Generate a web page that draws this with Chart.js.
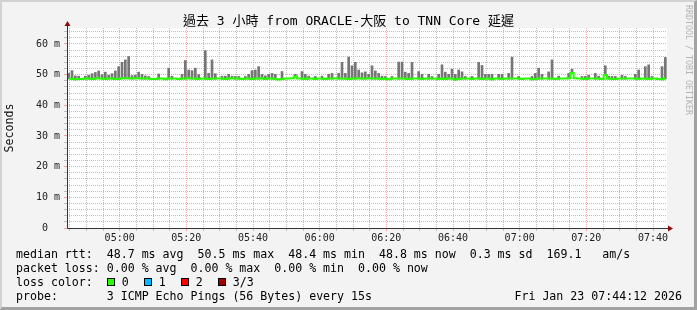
<!DOCTYPE html>
<html>
<head>
<meta charset="utf-8">
<script src="https://cdn.jsdelivr.net/npm/chart.js@4/dist/chart.umd.min.js"></script>
<style>
    html, body { margin: 0; padding: 0; }
    body { width: 697px; height: 310px; background: #f3f3f3; position: relative; overflow: hidden;
           font-family: "DejaVu Sans Mono", "Noto Sans CJK TC", monospace; color: #000; }
    #chart { position: absolute; left: 0; top: 0; }
    .frame { position: absolute; left: 0; top: 0; width: 697px; height: 310px; box-sizing: border-box;
             border-top: 2px solid #d2d2d2; border-left: 2px solid #d2d2d2;
             border-right: 3px solid #a2a2a2; border-bottom: 3px solid #a2a2a2; pointer-events: none; }
    #title { position: absolute; left: 0; top: 13px; width: 697px; text-align: center;
             font-size: 13px; line-height: 16px; white-space: pre; }
    #legend { position: absolute; left: 16px; top: 247px; font-size: 11.6px; line-height: 14px; white-space: pre; margin: 0;
              font-family: "DejaVu Sans Mono", monospace; }
    #stamp { position: absolute; right: 15px; top: 289px; font-size: 11.6px; line-height: 14px; white-space: pre; }
    .sw { display: inline-block; width: 6px; height: 6px; border: 1px solid #000; margin: 0 7px 0 15px; vertical-align: 0px; }
    .sw.first { margin-left: 0; }
    #credit { position: absolute; left: 684px; top: 5px; writing-mode: vertical-rl; font-size: 8.3px;
              color: #b4b4b4; white-space: pre; font-family: "DejaVu Sans Mono", monospace; }
</style>
</head>
<body>
<canvas id="chart" width="697" height="310"></canvas>
<div id="title">過去 3 小時 from ORACLE-大阪 to TNN Core 延遲</div>
<pre id="legend">median rtt:  48.7 ms avg  50.5 ms max  48.4 ms min  48.8 ms now  0.3 ms sd  169.1   am/s
packet loss: 0.00 % avg  0.00 % max  0.00 % min  0.00 % now
loss color:  <i class="sw first" style="background:#26ff00"></i>0<i class="sw" style="background:#00b8ff"></i>1<i class="sw" style="background:#ff0000"></i>2<i class="sw" style="background:#a00000"></i>3/3
probe:       3 ICMP Echo Pings (56 Bytes) every 15s</pre>
<div id="stamp">Fri Jan 23 07:44:12 2026</div>
<div id="credit">RRDTOOL / TOBI OETIKER</div>
<div class="frame"></div>

<script>
// window starts at 04:44:12, one value per minute (minutes of the day)
const startMinute = 284.2;
const endMinute = 464.2;

const xTickLabels = ['05:00', '05:20', '05:40', '06:00', '06:20', '06:40', '07:00', '07:20', '07:40'];
const yTickLabels = ['0', '10 m', '20 m', '30 m', '40 m', '50 m', '60 m'];

// median rtt in ms
const medianRtt = [
    48.8, 48.6, 48.5, 48.6, 48.6, 48.7, 48.7, 48.6, 48.7, 48.8, 48.7, 48.6, 48.7, 48.7, 48.6, 48.6, 48.8, 48.8, 48.8, 48.7,
    48.8, 48.8, 48.7, 48.7, 48.7, 48.6, 48.6, 48.7, 48.7, 48.5, 48.7, 48.7, 48.7, 48.6, 48.7, 48.7, 48.8, 48.7, 48.7, 48.6,
    48.7, 48.7, 48.6, 48.7, 48.7, 48.7, 48.7, 48.6, 48.7, 48.8, 48.7, 48.7, 48.6, 48.7, 48.7, 48.6, 48.7, 48.7, 48.8, 48.6,
    48.7, 48.7, 48.6, 48.4, 48.6, 48.7, 48.7, 48.8, 49.4, 48.7, 48.7, 48.6, 48.7, 48.7, 48.6, 48.7, 48.7, 48.6, 48.7, 48.7,
    48.8, 48.7, 48.7, 48.7, 48.6, 48.7, 48.7, 48.8, 48.7, 48.7, 48.8, 48.7, 48.7, 48.7, 48.6, 48.7, 48.5, 48.7, 48.7, 48.7,
    48.7, 48.7, 48.6, 48.7, 48.7, 48.7, 48.6, 48.7, 48.7, 48.7, 48.7, 48.6, 48.7, 48.6, 48.7, 48.7, 48.4, 48.6, 48.7, 48.7,
    48.7, 48.6, 48.7, 48.7, 48.6, 48.7, 48.7, 48.5, 48.7, 48.7, 48.6, 48.7, 48.7, 48.7, 48.7, 48.7, 48.6, 48.7, 48.7, 48.5,
    48.6, 48.7, 48.7, 48.7, 48.7, 48.7, 48.6, 48.7, 48.7, 48.7, 48.8, 50.5, 48.8, 48.7, 48.7, 48.6, 48.7, 48.7, 48.7, 48.7,
    48.6, 49.9, 48.7, 48.6, 48.6, 48.7, 48.7, 48.7, 48.7, 48.7, 48.7, 48.6, 48.7, 48.7, 48.6, 48.7, 48.7, 48.6, 48.5, 48.8
];

// highest ping of each minute (null = smoke hidden under the median line)
const maxRtt = [
    50.4, 51.3, 49.6, 49.5, null, 49.5, 49.8, 50.3, 50.7, 51.2, 50.0, 50.8, 49.8, 50.3, 51.2, 52.6, 54.0, 54.8, 55.9, 49.7,
    49.8, 50.8, 50.1, 49.6, 49.4, null, null, 50.2, null, null, 52.1, 49.5, null, null, 50.1, 54.6, 51.5, 51.3, 52.1, 50.0,
    null, 57.8, 50.4, 54.8, 50.3, null, 49.5, 49.5, 50.1, 49.5, 49.4, 49.4, null, 49.4, 50.1, 51.3, 51.5, 52.6, 50.1, 49.6,
    50.1, 50.4, 50.1, null, 51.0, null, null, null, 50.1, null, 51.0, 50.1, 49.5, null, 49.4, null, 49.5, null, 50.1, 50.4,
    null, 50.4, 54.0, 50.4, 55.7, 52.9, 54.0, 51.5, 50.6, 50.9, 50.1, 52.9, 51.2, 50.4, 49.5, 49.4, null, 49.4, null, 54.1,
    54.1, 50.8, 50.4, 54.0, null, 51.0, 50.1, null, 50.1, 49.4, null, 50.1, 53.2, 50.8, 50.1, 51.8, 50.1, 51.5, 50.9, 49.4,
    null, 49.4, null, 54.0, 53.0, 50.1, 50.1, 50.1, null, 50.1, 50.1, null, 50.4, 55.7, null, 49.4, null, null, null, 49.4,
    50.4, 52.1, 50.1, null, 50.9, 54.8, null, 49.5, null, null, 50.4, 51.8, null, null, 49.4, 49.4, 49.8, null, 50.4, 49.5,
    null, 52.9, 49.5, 49.4, 49.4, null, 49.8, 49.4, null, null, 50.1, 51.5, null, 52.6, 53.2, 49.4, null, null, 52.6, 55.6
];

const monoFont = '"DejaVu Sans Mono", monospace';
const minorGrid = 'rgba(170, 170, 170, 0.75)';
const majorGrid = 'rgba(245, 120, 120, 0.65)';

document.addEventListener('DOMContentLoaded', function() {
    showChart();
});

function timeText(v) {
    const h = Math.floor(v / 60);
    const m = Math.round(v - h * 60);
    return String(h).padStart(2, '0') + ':' + String(m).padStart(2, '0');
}

const frameAxes = {
    id: 'frameAxes',
    beforeDraw(chart) {
        const a = chart.chartArea;
        const ctx = chart.ctx;
        ctx.save();
        ctx.fillStyle = '#ffffff';
        ctx.fillRect(a.left, a.top, a.right - a.left, a.bottom - a.top);
        ctx.restore();
    },
    afterDraw(chart) {
        const a = chart.chartArea;
        const ctx = chart.ctx;
        const x0 = Math.round(a.left) + 0.5;
        const y0 = Math.round(a.bottom) + 0.5;
        ctx.save();
        ctx.strokeStyle = '#333';
        ctx.lineWidth = 1;
        ctx.beginPath();
        ctx.moveTo(x0, y0);
        ctx.lineTo(a.right + 3, y0);
        ctx.moveTo(x0, y0);
        ctx.lineTo(x0, a.top - 4);
        ctx.stroke();
        ctx.fillStyle = '#8c0b0b';
        ctx.beginPath();
        ctx.moveTo(x0 - 3, a.top - 2);
        ctx.lineTo(x0 + 3, a.top - 2);
        ctx.lineTo(x0, a.top - 7);
        ctx.closePath();
        ctx.fill();
        ctx.beginPath();
        ctx.moveTo(a.right + 1, y0 - 3);
        ctx.lineTo(a.right + 1, y0 + 3);
        ctx.lineTo(a.right + 6, y0);
        ctx.closePath();
        ctx.fill();
        ctx.restore();
    }
};

function showChart() {
    const canvasChart = document.getElementById('chart')?.getContext('2d');
    if (!canvasChart) return;

    const medianPoints = medianRtt.map((v, i) => ({ x: startMinute + i + 0.5, y: v }));
    const smokeBars = [];
    maxRtt.forEach((top, i) => {
        if (top !== null) smokeBars.push({ x: startMinute + i + 0.5, y: [medianRtt[i] - 0.2, top] });
    });

    new Chart(canvasChart, {
        type: 'bar',
        data: {
            datasets: [
                {
                    type: 'line',
                    label: 'median rtt',
                    data: medianPoints,
                    borderColor: '#26ff00',
                    borderWidth: 2,
                    pointRadius: 0,
                    stepped: 'middle',
                    order: 0
                },
                {
                    label: 'smoke',
                    data: smokeBars,
                    backgroundColor: '#767676',
                    borderWidth: 0,
                    barThickness: 2,
                    order: 1
                }
            ]
        },
        options: {
            responsive: false,
            devicePixelRatio: 1,
            animation: false,
            layout: { padding: { left: 0, right: 30, top: 28, bottom: 62 } },
            plugins: { legend: { display: false }, tooltip: { enabled: false } },
            scales: {
                x: {
                    type: 'linear',
                    min: startMinute,
                    max: endMinute,
                    offset: false,
                    afterBuildTicks(scale) {
                        const ticks = [];
                        for (let m = 285; m <= 460; m += 5) ticks.push({ value: m });
                        scale.ticks = ticks;
                    },
                    afterFit(scale) { scale.height = 20; },
                    border: { display: false, dash: [1, 1] },
                    grid: {
                        offset: false,
                        tickLength: 3,
                        color: ctx => xTickLabels.includes(timeText(ctx.tick.value)) ? majorGrid : minorGrid
                    },
                    ticks: {
                        autoSkip: false,
                        maxRotation: 0,
                        padding: 1,
                        color: '#222',
                        font: { family: monoFont, size: 10 },
                        callback: v => xTickLabels.includes(timeText(v)) ? timeText(v) : ''
                    }
                },
                y: {
                    min: 0,
                    max: 65.2,
                    afterFit(scale) { scale.width = 67; },
                    border: { display: false, dash: [1, 1] },
                    grid: {
                        tickLength: 3,
                        color: ctx => Math.round(ctx.tick.value) % 10 === 0 ? majorGrid : minorGrid
                    },
                    title: {
                        display: true,
                        text: 'Seconds',
                        color: '#111',
                        font: { family: monoFont, size: 11.6 },
                        padding: { top: 3, bottom: 0 }
                    },
                    ticks: {
                        stepSize: 2,
                        includeBounds: false,
                        autoSkip: false,
                        padding: 4,
                        color: '#222',
                        font: { family: monoFont, size: 10 },
                        callback: function(v) {
                            const r = Math.round(v);
                            if (r % 10 !== 0) return '';
                            return r === 0 ? yTickLabels[0] + '  ' : yTickLabels[r / 10];
                        }
                    }
                }
            }
        },
        plugins: [frameAxes]
    });
}
</script>
</body>
</html>
